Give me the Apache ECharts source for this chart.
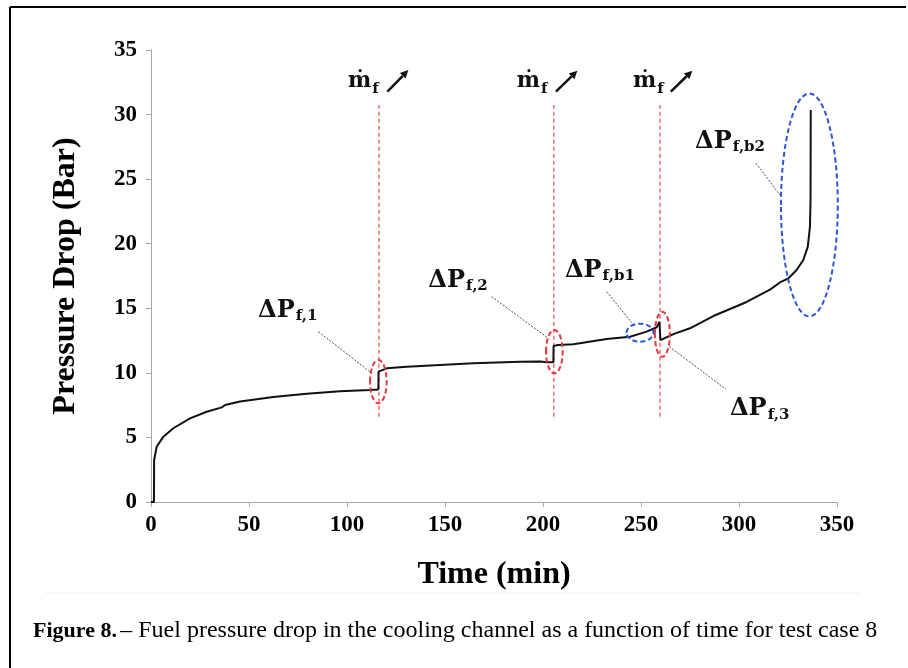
<!DOCTYPE html>
<html><head><meta charset="utf-8">
<script src="https://cdn.jsdelivr.net/npm/echarts@6/dist/echarts.min.js"></script>
<style>html,body{margin:0;padding:0;background:#fff}#c{width:908px;height:668px}</style>
</head><body><div id="c"></div>
<script>
// ---- data ----
const timeMin = [0, 1.5, 1.6, 2.9, 6.3, 11.4, 19.9, 28.4, 36.1, 37.8, 45.4, 62.4, 79.4, 96.4, 111.7, 116.0, 116.1, 116.8, 120.3, 130.5, 147.4, 164.4, 188.3, 198.5, 201.9, 205.3, 205.4, 207.7, 215.5, 232.5, 244.4, 252.9, 258.0, 259.4, 259.9, 266.5, 275.0, 286.9, 303.9, 315.8, 320.9, 325.2, 329.4, 332.8, 335.1, 336.2, 336.5, 336.6];
const pressureBar = [0, 0, 3.25, 4.28, 5.06, 5.71, 6.48, 6.99, 7.33, 7.51, 7.78, 8.13, 8.39, 8.57, 8.67, 8.71, 10.09, 10.22, 10.35, 10.48, 10.61, 10.74, 10.86, 10.88, 10.82, 10.82, 12.08, 12.16, 12.21, 12.62, 12.80, 13.19, 13.53, 13.96, 12.54, 13.00, 13.45, 14.40, 15.49, 16.45, 17.00, 17.32, 17.96, 18.74, 19.77, 21.32, 23.40, 30.35];

const xTicks = {min: 0, max: 350, interval: 50};
const yTicks = {min: 0, max: 35, interval: 5};

// flow-rate change markers (time, min) and vertical extent (bar)
const flowChangeTimes = [116.3, 205.5, 259.7];
const flowLineRange = [6.6, 30.74];
const flowLabelAnchors = [[100.5, 32.55], [186.6, 32.55], [245.9, 32.55]];
const flowArrows = [[120.6, 31.77, 131.3, 33.45], [206.6, 31.77, 217.5, 33.40], [265.2, 31.77, 276.2, 33.40]];

// ellipses: [centre time, centre bar, half-width (min), half-height (bar)]
const redEllipses = [[116.0, 9.32, 4.23, 1.68], [205.8, 11.64, 4.23, 1.68], [260.9, 12.99, 3.83, 1.74]];
const blueEllipses = [[249.5, 13.11, 6.89, 0.70], [335.9, 23.0, 14.5, 8.63]];

// ΔP labels
const dpSubs = ['f,1', 'f,2', 'f,b1', 'f,3', 'f,b2'];
const dpAnchors = [[54.6, 14.83], [141.5, 17.15], [211.2, 17.93], [295.4, 7.2], [277.6, 27.92]];
const dpLeaders = [[85.4, 13.19, 112.6, 9.97], [173.8, 15.9, 202.7, 12.68], [232.5, 16.28, 245.3, 13.88], [264.4, 12.03, 293.4, 8.73], [308.7, 26.23, 320.9, 23.77]];

const captionBold = 'Figure 8.';
const captionText = '\u2013 Fuel pressure drop in the cooling channel as a function of time for test case 8';

// ---- chart ----
const mctx = document.createElement('canvas').getContext('2d');
function textW(font, s) { mctx.font = font; return mctx.measureText(s).width; }

const serif = '"Liberation Serif", "Times New Roman", serif';
const mathFont = '"DejaVu Serif", serif';
const dpFont = 'bold 24px ' + mathFont;
const subFont = 'bold 15px ' + mathFont;
const mFont = 'bold 22px ' + mathFont;

const chart = echarts.init(document.getElementById('c'), null, {renderer: 'canvas'});

function ellipseSeries(data, color) {
  return {
    type: 'custom', data: data, silent: true, z: 5, animation: false,
    renderItem: function (params, api) {
      const c = api.coord([api.value(0), api.value(1)]);
      const e = api.coord([api.value(0) + api.value(2), api.value(1) + api.value(3)]);
      return {
        type: 'ellipse',
        shape: {cx: c[0], cy: c[1], rx: Math.abs(e[0] - c[0]), ry: Math.abs(c[1] - e[1])},
        style: {fill: 'none', stroke: color, lineWidth: 2, lineDash: [5, 3]}
      };
    }
  };
}

const axisColor = '#a6a6a6';
const option = {
  animation: false,
  backgroundColor: '#fff',
  grid: {left: 151, right: 71, top: 50, bottom: 166, containLabel: false, outerBoundsMode: 'none'},
  xAxis: {
    type: 'value', min: xTicks.min, max: xTicks.max, interval: xTicks.interval,
    name: 'Time (min)', nameLocation: 'middle', nameGap: 57,
    nameTextStyle: {fontFamily: serif, fontWeight: 'bold', fontSize: 32, color: '#000'},
    axisLine: {show: true, lineStyle: {color: axisColor, width: 1}},
    axisTick: {show: true, inside: false, length: 5, lineStyle: {color: axisColor}},
    axisLabel: {fontFamily: serif, fontWeight: 'bold', fontSize: 23, color: '#000', margin: 12},
    splitLine: {show: false}
  },
  yAxis: {
    type: 'value', min: yTicks.min, max: yTicks.max, interval: yTicks.interval,
    name: 'Pressure Drop (Bar)', nameLocation: 'middle', nameGap: 69,
    nameTextStyle: {fontFamily: serif, fontWeight: 'bold', fontSize: 32, color: '#000'},
    axisLine: {show: true, lineStyle: {color: axisColor, width: 1}},
    axisTick: {show: true, inside: false, length: 5, lineStyle: {color: axisColor}},
    axisLabel: {fontFamily: serif, fontWeight: 'bold', fontSize: 23, color: '#000', margin: 14},
    splitLine: {show: false}
  },
  series: [
    {
      type: 'line', data: timeMin.map((t, i) => [t, pressureBar[i]]),
      showSymbol: false, symbol: 'none', smooth: false, z: 4,
      lineStyle: {color: '#111', width: 2}
    },
    { // red dashed vertical lines
      type: 'custom', silent: true, z: 3, animation: false,
      data: flowChangeTimes.map(t => [t, flowLineRange[0], flowLineRange[1]]),
      renderItem: function (params, api) {
        const a = api.coord([api.value(0), api.value(1)]);
        const b = api.coord([api.value(0), api.value(2)]);
        return {type: 'line', shape: {x1: a[0], y1: a[1], x2: b[0], y2: b[1]},
          style: {stroke: '#f26d6d', lineWidth: 1.5, lineDash: [4, 3]}};
      }
    },
    { // flow rate labels
      type: 'custom', silent: true, z: 6, animation: false,
      data: flowLabelAnchors,
      renderItem: function (params, api) {
        const p = api.coord([api.value(0), api.value(1)]);
        const w = textW(mFont, '\u1E41');
        return {type: 'group', children: [
          {type: 'text', x: p[0], y: p[1], style: {text: '\u1E41', font: mFont, fill: '#111', align: 'left', verticalAlign: 'middle'}},
          {type: 'text', x: p[0] + w + 1, y: p[1] + 7, style: {text: 'f', font: subFont, fill: '#111', align: 'left', verticalAlign: 'middle'}}
        ]};
      }
    },
    { // arrows
      type: 'custom', silent: true, z: 6, animation: false,
      data: flowArrows,
      renderItem: function (params, api) {
        const a = api.coord([api.value(0), api.value(1)]);
        const b = api.coord([api.value(2), api.value(3)]);
        const ang = Math.atan2(b[1] - a[1], b[0] - a[0]);
        const L = 8, W = 4;
        const bx = b[0] - L * Math.cos(ang), by = b[1] - L * Math.sin(ang);
        const px = -Math.sin(ang) * W, py = Math.cos(ang) * W;
        return {type: 'group', children: [
          {type: 'line', shape: {x1: a[0], y1: a[1], x2: bx, y2: by}, style: {stroke: '#111', lineWidth: 2.5}},
          {type: 'polygon', shape: {points: [[b[0], b[1]], [bx + px, by + py], [bx - px, by - py]]}, style: {fill: '#111'}}
        ]};
      }
    },
    ellipseSeries(redEllipses, '#e8343a'),
    ellipseSeries(blueEllipses, '#2a56d8'),
    { // leader lines
      type: 'custom', silent: true, z: 5, animation: false,
      data: dpLeaders,
      renderItem: function (params, api) {
        const a = api.coord([api.value(0), api.value(1)]);
        const b = api.coord([api.value(2), api.value(3)]);
        return {type: 'line', shape: {x1: a[0], y1: a[1], x2: b[0], y2: b[1]},
          style: {stroke: '#222', lineWidth: 0.8, lineDash: [2, 1.5]}};
      }
    },
    { // ΔP labels
      type: 'custom', silent: true, z: 6, animation: false,
      data: dpAnchors,
      renderItem: function (params, api) {
        const p = api.coord([api.value(0), api.value(1)]);
        const w = textW(dpFont, '\u0394P');
        return {type: 'group', children: [
          {type: 'text', x: p[0], y: p[1], style: {text: '\u0394P', font: dpFont, fill: '#111', align: 'left', verticalAlign: 'middle'}},
          {type: 'text', x: p[0] + w + 1, y: p[1] + 6, style: {text: dpSubs[params.dataIndex], font: subFont, fill: '#111', align: 'left', verticalAlign: 'middle'}}
        ]};
      }
    }
  ],
  graphic: [
    {type: 'line', shape: {x1: 10, y1: 7, x2: 906, y2: 7}, style: {stroke: '#000', lineWidth: 2}, silent: true},
    {type: 'line', shape: {x1: 10, y1: 7, x2: 10, y2: 668}, style: {stroke: '#000', lineWidth: 2}, silent: true},
    {type: 'line', shape: {x1: 45, y1: 593, x2: 860, y2: 593}, style: {stroke: '#f2f2f2', lineWidth: 1}, silent: true},
    {type: 'text', left: 33, top: 619, silent: true,
      style: {text: '{b|' + captionBold + '} {n|' + captionText + '}',
        rich: {
          b: {fontFamily: serif, fontWeight: 'bold', fontSize: 22, fill: '#000'},
          n: {fontFamily: serif, fontSize: 24, fill: '#000'}
        }}}
  ]
};
chart.setOption(option);
</script>
</body></html>
